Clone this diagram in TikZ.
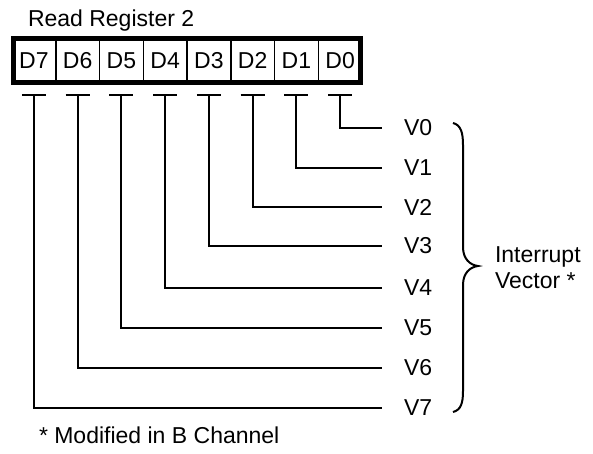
\documentclass[tikz,border=0pt]{standalone}
\usepackage{fontspec}
\setmainfont{Liberation Sans}
\begin{document}
\begin{tikzpicture}[x=1pt,y=-1pt,
  font=\fontsize{23}{26}\selectfont,
  line width=2pt,
  cell/.style={draw, line width=1.5pt, minimum width=43.75pt, minimum height=47pt, inner sep=0pt},
  vlab/.style={anchor=west, inner sep=0pt},
  txt/.style={anchor=base west, inner sep=0pt}]
\useasboundingbox (0,0) rectangle (593,453);
\node[txt] (title) at (27,26.5) {Read Register 2};
\foreach \i in {0,...,7} {
  \pgfmathsetmacro\cx{12+43.75*(7-\i)+21.875}
  \node[cell] (d\i) at (\cx,60.5) {D\i};
}
\draw[line width=4.5pt] ([shift={(2.25,2.25)}]d7.north west) rectangle ([shift={(-2.25,-2.25)}]d0.south east);
\coordinate (tbar) at (0,94.5);
\foreach \i/\y in {0/128,1/168,2/207,3/246,4/288,5/328,6/368,7/408} {
  \coordinate (t\i) at (d\i.center |- tbar);
  \node[vlab] (v\i) at (403,\y) {V\i};
  \draw ([xshift=-12pt]t\i) -- ([xshift=12pt]t\i);
  \draw (t\i) |- ([xshift=-21pt]v\i.west);
}
\draw (453,123) .. controls (461,125) and (463,133) .. (463,145) -- (463,247)
  .. controls (463,259) and (470,265) .. (478,266)
  .. controls (470,267) and (463,273) .. (463,285) -- (463,391)
  .. controls (463,403) and (461,410) .. (453,412);
\node[txt, align=left] (iv) at (494,262) {Interrupt};
\node[txt] (iv2) at (494,288) {Vector *};
\node[txt] (foot) at (38,443) {* Modified in B Channel};
\end{tikzpicture}
\end{document}
